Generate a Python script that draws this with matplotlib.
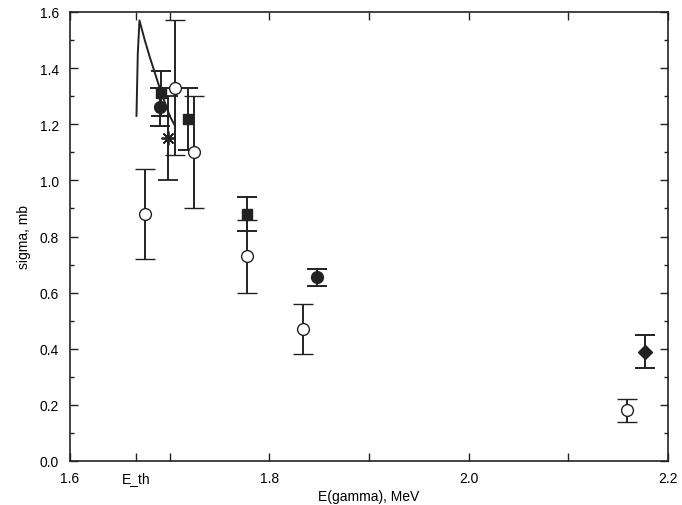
import matplotlib
matplotlib.use("Agg")
import matplotlib.pyplot as plt
import numpy as np

plt.rcParams['font.family'] = ['Liberation Sans', 'DejaVu Sans']
plt.rcParams['font.size'] = 10

# open circles
oc_x = [1.6752, 1.7053, 1.7245, 1.7775, 1.8334, 2.159]
oc_y = [0.88, 1.33, 1.10, 0.73, 0.47, 0.18]
oc_err = [0.16, 0.24, 0.20, 0.13, 0.09, 0.04]

# filled circles
fc_x = [1.6903, 1.8474]
fc_y = [1.262, 0.655]
fc_err = [0.067, 0.030]

# filled squares
sq_x = [1.6918, 1.7187, 1.7778]
sq_y = [1.31, 1.22, 0.88]
sq_err = [0.08, 0.11, 0.06]

# star
st_x = [1.6986]
st_y = [1.15]
st_err = [0.15]

# diamond
dm_x = [2.1767]
dm_y = [0.39]
dm_err = [0.06]

# theory curve
cv_x = [1.6667, 1.6680, 1.6697, 1.675, 1.680, 1.6903, 1.700, 1.7045]
cv_y = [1.23, 1.45, 1.57, 1.50, 1.44, 1.326, 1.23, 1.20]

E_th = 1.6665

fig = plt.figure(figsize=(6.82, 5.06), dpi=100)
ax = fig.add_axes([70/682, 1-462/506, 598/682, 449/506])

c = '#222222'
eb = dict(color=c, ecolor=c, elinewidth=1.4, capsize=7.5, capthick=1.4, ls='none')

ax.plot(cv_x, cv_y, '-', color=c, lw=1.4)
ax.errorbar(oc_x, oc_y, yerr=oc_err, marker='o', ms=8.5, mfc='white', mec=c, mew=1.0, **eb)
ax.errorbar(fc_x, fc_y, yerr=fc_err, marker='o', ms=8.5, mfc=c, mec=c, **eb)
ax.errorbar(sq_x, sq_y, yerr=sq_err, marker='s', ms=7.5, mfc=c, mec=c, **eb)
ax.errorbar(st_x, st_y, yerr=st_err, marker=(8, 2, 0), ms=10, mec=c, mew=1.3, **eb)
ax.errorbar(dm_x, dm_y, yerr=dm_err, marker='D', ms=7, mfc=c, mec=c, **eb)

ax.set_xlim(1.6, 2.2)
ax.set_ylim(0.0, 1.6)
xt = [1.6, E_th, 1.7, 1.8, 1.9, 2.0, 2.1, 2.2]
ax.set_xticks(xt)
ax.set_xticklabels(['1.6', 'E_th', '', '1.8', '', '2.0', '', '2.2'], va='baseline')
ax.set_yticks(np.arange(0, 1.61, 0.2))
ax.set_yticklabels(['%.1f' % v for v in np.arange(0, 1.61, 0.2)])
ax.set_yticks(np.arange(0.1, 1.6, 0.2), minor=True)
ax.tick_params(which='both', direction='in', top=True, right=True, width=1.0, color=c)
ax.tick_params(which='major', length=6, pad=8)
ax.tick_params(which='minor', length=3)
ax.tick_params(axis='x', which='major', pad=15)
for s in ax.spines.values():
    s.set_linewidth(1.2)
    s.set_color(c)

ax.set_xlabel('E(gamma), MeV', labelpad=3)
ax.set_ylabel('sigma, mb', labelpad=6)

fig.savefig('out.png', dpi=100)
